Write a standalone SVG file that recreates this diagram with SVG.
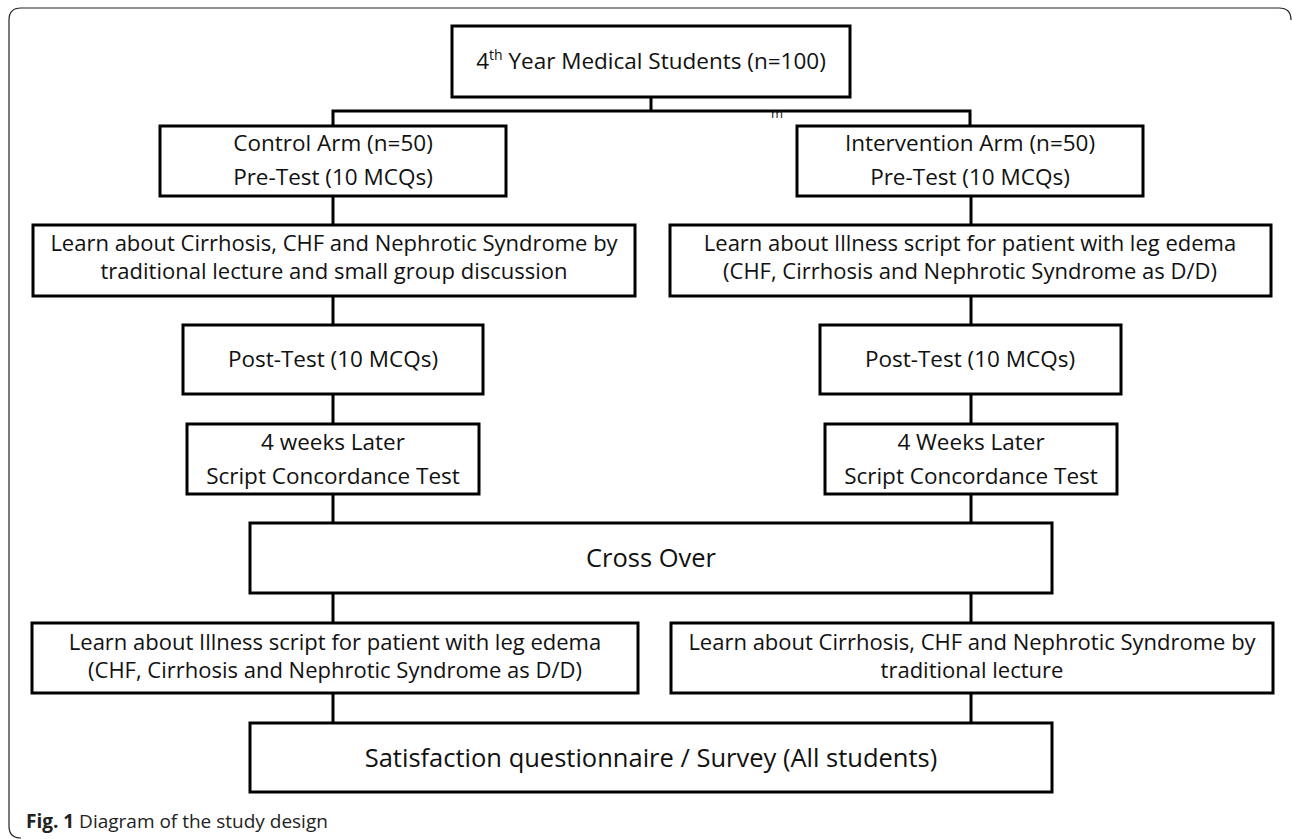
<svg xmlns="http://www.w3.org/2000/svg" width="1292" height="839" viewBox="0 0 1292 839">
<style>
.box{fill:#fff;stroke:#000;stroke-width:3}
.ln{fill:none;stroke:#000;stroke-width:3}
.t{font-family:"Open Sans","Liberation Sans",sans-serif;font-size:22.5px;fill:#111;text-anchor:middle}
.t2{font-family:"Open Sans","Liberation Sans",sans-serif;font-size:22px;fill:#111;text-anchor:middle}
.tl{font-family:"Open Sans","Liberation Sans",sans-serif;font-size:25.5px;fill:#111;text-anchor:middle}
.cap{font-family:"Open Sans","Liberation Sans",sans-serif;font-size:19px;fill:#222}
</style>
<rect width="1292" height="839" fill="#fff"/>
<path d="M1291,20 Q1291,8 1279,8 H21 Q9,8 9,20 V826 Q9,838 21,838" fill="none" stroke="#222" stroke-width="1.2"/>
<g id="connectors" class="ln">
<path d="M651,97 V111 M333,126 V111 H970 V126"/>
<path d="M333,196 V225 M333,296 V325 M333,394 V424 M333,494 V523 M333,593 V623 M333,693 V723"/>
<path d="M971,196 V225 M971,296 V325 M971,394 V424 M971,494 V523 M971,593 V623 M971,693 V723"/>
</g>
<text x="777" y="118" font-family="Open Sans, Liberation Sans, sans-serif" font-size="13" fill="#111" text-anchor="middle">m</text>
<g id="n-top"><rect class="box" x="452" y="26" width="398" height="71"/><text class="t" x="651" y="69">4<tspan font-size="14" dy="-9">th</tspan><tspan dy="9"> Year Medical Students (n=100)</tspan></text></g>
<g id="n-control"><rect class="box" x="160" y="126" width="346" height="70"/><text class="t" x="333" y="151">Control Arm (n=50)</text><text class="t" x="333" y="185">Pre-Test (10 MCQs)</text></g>
<g id="n-intervention"><rect class="box" x="797" y="126" width="346" height="70"/><text class="t" x="970" y="151">Intervention Arm (n=50)</text><text class="t" x="970" y="185">Pre-Test (10 MCQs)</text></g>
<g id="n-learn-l1"><rect class="box" x="33" y="225" width="602" height="71"/><text class="t2" x="334" y="251">Learn about Cirrhosis, CHF and Nephrotic Syndrome by</text><text class="t2" x="334" y="279">traditional lecture and small group discussion</text></g>
<g id="n-learn-r1"><rect class="box" x="670" y="225" width="601" height="71"/><text class="t2" x="970" y="251">Learn about Illness script for patient with leg edema</text><text class="t2" x="970" y="279">(CHF, Cirrhosis and Nephrotic Syndrome as D/D)</text></g>
<g id="n-post-l"><rect class="box" x="183" y="325" width="300" height="69"/><text class="t" x="333" y="367">Post-Test (10 MCQs)</text></g>
<g id="n-post-r"><rect class="box" x="820" y="325" width="301" height="69"/><text class="t" x="970" y="367">Post-Test (10 MCQs)</text></g>
<g id="n-weeks-l"><rect class="box" x="187" y="424" width="292" height="70"/><text class="t" x="333" y="450">4 weeks Later</text><text class="t" x="333" y="484">Script Concordance Test</text></g>
<g id="n-weeks-r"><rect class="box" x="825" y="424" width="292" height="70"/><text class="t" x="971" y="450">4 Weeks Later</text><text class="t" x="971" y="484">Script Concordance Test</text></g>
<g id="n-cross"><rect class="box" x="250" y="523" width="802" height="70"/><text class="tl" x="651" y="567">Cross Over</text></g>
<g id="n-learn-l2"><rect class="box" x="32" y="623" width="606" height="70"/><text class="t2" x="335" y="650">Learn about Illness script for patient with leg edema</text><text class="t2" x="335" y="678">(CHF, Cirrhosis and Nephrotic Syndrome as D/D)</text></g>
<g id="n-learn-r2"><rect class="box" x="671" y="623" width="602" height="70"/><text class="t2" x="972" y="650">Learn about Cirrhosis, CHF and Nephrotic Syndrome by</text><text class="t2" x="972" y="678">traditional lecture</text></g>
<g id="n-satisfaction"><rect class="box" x="250" y="723" width="802" height="69"/><text class="tl" x="651" y="767">Satisfaction questionnaire / Survey (All students)</text></g>
<text class="cap" x="26" y="828"><tspan font-weight="bold">Fig. 1</tspan> Diagram of the study design</text>
</svg>
